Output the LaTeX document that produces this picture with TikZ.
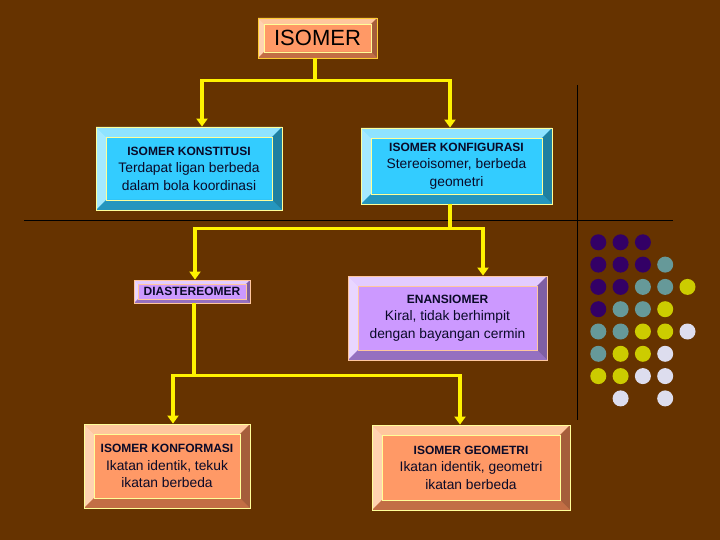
\documentclass[tikz,border=0pt]{standalone}
\usepackage{fontspec}
\setmainfont{Liberation Sans}
\usetikzlibrary{arrows.meta}
\definecolor{bgbrown}{HTML}{663300}
\definecolor{salmon}{HTML}{FF9966}
\definecolor{salmonL}{HTML}{FFC79E}
\definecolor{salmonD}{HTML}{C26E45}
\definecolor{cyanbox}{HTML}{33CCFF}
\definecolor{cyanL}{HTML}{8FE3FF}
\definecolor{cyanD}{HTML}{2596BE}
\definecolor{lilac}{HTML}{CC99FF}
\definecolor{lilacL}{HTML}{E3CCFF}
\definecolor{lilacD}{HTML}{9570C0}
\definecolor{rimY}{HTML}{FFFF99}
\definecolor{rimG}{HTML}{FFCC33}
\definecolor{inkN}{HTML}{0A0A28}
\definecolor{dotP}{HTML}{330066}
\definecolor{dotT}{HTML}{669999}
\definecolor{dotY}{HTML}{CCCC00}
\definecolor{dotW}{HTML}{DDDDEE}
\newcommand\hdfont{\fontsize{12}{15}\bfseries\selectfont}
\tikzset{
    bevw/.store in=\bevw, bevw=10,
    BEV/.style n args={4}{rectangle, draw=#4, line width=0.8pt, fill=#1, inner sep=0pt, align=center,
        text=inkN, font=\fontsize{13.8}{17.5}\selectfont,
        path picture={
            \coordinate (bvA) at (path picture bounding box.north west);
            \coordinate (bvB) at (path picture bounding box.north east);
            \coordinate (bvC) at (path picture bounding box.south east);
            \coordinate (bvD) at (path picture bounding box.south west);
            \fill[#2] (bvA) -- (bvB) -- ([shift={(-\bevw,\bevw)}]bvB) -- ([shift={(\bevw,\bevw)}]bvA) -- cycle;
            \fill[#2!80!white] (bvA) -- (bvD) -- ([shift={(\bevw,-\bevw)}]bvD) -- ([shift={(\bevw,\bevw)}]bvA) -- cycle;
            \fill[#3] (bvD) -- (bvC) -- ([shift={(-\bevw,-\bevw)}]bvC) -- ([shift={(\bevw,-\bevw)}]bvD) -- cycle;
            \fill[#3!85!black] (bvB) -- (bvC) -- ([shift={(-\bevw,-\bevw)}]bvC) -- ([shift={(-\bevw,\bevw)}]bvB) -- cycle;
            \draw[#4, line width=0.4pt] ([shift={(\bevw,\bevw)}]bvA) rectangle ([shift={(-\bevw,-\bevw)}]bvC);
        }},
    BX1/.style={BEV={salmon}{salmonL}{salmonD}{rimY}},
    BX2/.style={BEV={cyanbox}{cyanL}{cyanD}{rimY}},
    BX3/.style={BEV={lilac}{lilacL}{lilacD}{salmonL}},
    AR/.style={draw=yellow, line width=3.5pt, -{Triangle[length=8pt,width=11pt]}}}

\begin{document}
\begin{tikzpicture}[x=1pt,y=-1pt]
    \useasboundingbox (0,0) rectangle (720,540);
    \fill[bgbrown] (0,0) rectangle (720,540);
    % separator lines
    \draw[black, line width=1pt] (24,221) -- (673,221);
    \draw[black, line width=1pt] (577,85) -- (577,420);
    % boxes
    \node[BX1, draw=rimG, bevw=6, minimum width=119, minimum height=40, font=\fontsize{22}{24}\selectfont, text=black] (isomer) at (317.5,38) {ISOMER};
    \node[BX2, minimum width=186, minimum height=83] (konst) at (189,168.5)
        {{\hdfont ISOMER KONSTITUSI}\\ Terdapat ligan berbeda\\ dalam bola koordinasi};
    \node[BX2, minimum width=191, minimum height=76] (konfig) at (456.5,166)
        {{\hdfont ISOMER KONFIGURASI}\\ Stereoisomer, berbeda\\ geometri};
    \node[BX3, bevw=4, minimum width=116, minimum height=23] (dia) at (192,291.5)
        {\hdfont DIASTEREOMER};
    \node[BX3, minimum width=199, minimum height=84] (enan) at (447.5,318)
        {{\hdfont ENANSIOMER}\\ Kiral, tidak berhimpit\\ dengan bayangan cermin};
    \node[BX1, minimum width=166, minimum height=84] (konfor) at (167,466)
        {{\hdfont ISOMER KONFORMASI}\\ Ikatan identik, tekuk\\ ikatan berbeda};
    \node[BX1, minimum width=198, minimum height=85] (geo) at (471,467.5)
        {{\hdfont ISOMER GEOMETRI}\\ Ikatan identik, geometri\\ ikatan berbeda};
    % connectors
    \draw[AR] ([xshift=-2.5]isomer.south) -- ++(0,22) -| ([xshift=13]konst.north);
    \draw[AR] ([xshift=-2.5]isomer.south) -- ++(0,22) -| ([xshift=-6.5]konfig.north);
    \draw[AR] ([xshift=-6.5]konfig.south) -- ++(0,24) -| ([xshift=3]dia.north);
    \draw[AR] ([xshift=-6.5]konfig.south) -- ++(0,24) -| ([xshift=35.5]enan.north);
    \draw[AR] ([xshift=2]dia.south) -- ++(0,72) -| ([xshift=6]konfor.north);
    \draw[AR] ([xshift=2]dia.south) -- ++(0,72) -| ([xshift=-11]geo.north);
    % dots
    \foreach \c/\r/\k in {1/1/dotP,2/1/dotP,3/1/dotP,
        1/2/dotP,2/2/dotP,3/2/dotP,4/2/dotT,
        1/3/dotP,2/3/dotP,3/3/dotT,4/3/dotT,5/3/dotY,
        1/4/dotP,2/4/dotT,3/4/dotT,4/4/dotY,
        1/5/dotT,2/5/dotT,3/5/dotY,4/5/dotY,5/5/dotW,
        1/6/dotT,2/6/dotY,3/6/dotY,4/6/dotW,
        1/7/dotY,2/7/dotY,3/7/dotW,4/7/dotW,
        2/8/dotW,4/8/dotW}{
        \fill[\k] ({576+22.3*\c},{220+22.3*\r}) circle (8);}
\end{tikzpicture}
\end{document}
